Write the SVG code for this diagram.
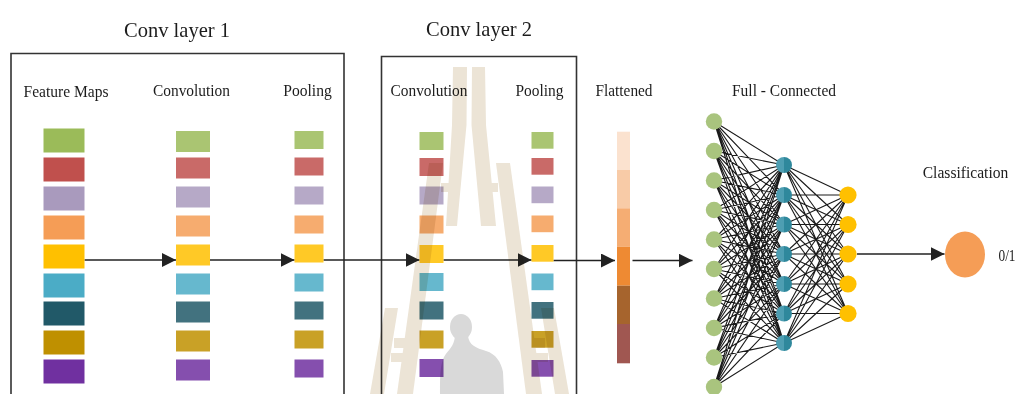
<svg xmlns="http://www.w3.org/2000/svg" width="1019" height="394" viewBox="0 0 1019 394">
  <style>
    text { font-family: "Liberation Serif", "Times New Roman", serif; fill: #1c1c1c; }
    .title { font-size: 21px; text-anchor: middle; }
    .lbl { font-size: 16px; text-anchor: middle; }
    .frame { fill: none; stroke: #333; stroke-width: 1.6; }
    .flow { fill: none; stroke: #222; stroke-width: 1.6; }
    .edge { fill: none; stroke: #1a1a1a; stroke-width: 1.1; }
    .soft rect { opacity: 0.85; }
    .k1 { fill: #9BBB59; } .k2 { fill: #C0504D; } .k3 { fill: #A99ABD; }
    .k4 { fill: #F59D56; } .k5 { fill: #FFC000; } .k6 { fill: #4BACC6; }
    .k7 { fill: #215968; } .k8 { fill: #BF9000; } .k9 { fill: #7030A0; }
    .in { fill: #A9C47E; }
    .hid { fill: url(#hidFill); }
    .out { fill: #FFC000; }
    .wm { fill: #ECE4D6; }
  </style>
  <defs>
    <marker id="arrow" markerUnits="userSpaceOnUse" markerWidth="14" markerHeight="14" refX="14" refY="7" orient="auto">
      <path d="M0,0 L14,7 L0,14 Z" fill="#222"/>
    </marker>
    <linearGradient id="hidFill" x1="0" y1="0" x2="1" y2="0">
      <stop offset="0" stop-color="#4E9EB2"/>
      <stop offset="0.5" stop-color="#4E9EB2"/>
      <stop offset="0.5" stop-color="#2F889C"/>
      <stop offset="1" stop-color="#2F889C"/>
    </linearGradient>
  </defs>

  <rect width="1019" height="394" fill="#fff"/>

  <!-- stage frames -->
  <g id="conv-layer-1">
    <text class="title" x="177" y="36.7" textLength="106" lengthAdjust="spacingAndGlyphs">Conv layer 1</text>
    <path class="frame" d="M11 394 V53.5 H344 V394"/>
  </g>
  <g id="conv-layer-2">
    <text class="title" x="479" y="36" textLength="106" lengthAdjust="spacingAndGlyphs">Conv layer 2</text>
    <path class="frame" d="M381.5 394 V56.5 H576.5 V394"/>
  </g>

  <!-- connectors -->
  <g id="connectors">
    <path class="flow" d="M84.5 260 H176" marker-end="url(#arrow)"/>
    <path class="flow" d="M210 260 H294.5" marker-end="url(#arrow)"/>
    <path class="flow" d="M323.5 260 H419.5" marker-end="url(#arrow)"/>
    <path class="flow" d="M443.5 260 H531.5" marker-end="url(#arrow)"/>
    <path class="flow" d="M553.5 260.5 H615" marker-end="url(#arrow)"/>
    <path class="flow" d="M632.5 260.5 H692.5" marker-end="url(#arrow)"/>
    <path class="flow" d="M857 254 H944.5" marker-end="url(#arrow)"/>
    <!-- input layer to hidden layer -->
    <path class="edge" d="M714 121.5 784 165M714 121.5 784 195M714 121.5 784 224.5M714 121.5 784 254M714 121.5 784 284M714 121.5 784 313.5M714 121.5 784 343
M714 151 784 165M714 151 784 195M714 151 784 224.5M714 151 784 254M714 151 784 284M714 151 784 313.5M714 151 784 343
M714 180.5 784 165M714 180.5 784 195M714 180.5 784 224.5M714 180.5 784 254M714 180.5 784 284M714 180.5 784 313.5M714 180.5 784 343
M714 210 784 165M714 210 784 195M714 210 784 224.5M714 210 784 254M714 210 784 284M714 210 784 313.5M714 210 784 343
M714 239.5 784 165M714 239.5 784 195M714 239.5 784 224.5M714 239.5 784 254M714 239.5 784 284M714 239.5 784 313.5M714 239.5 784 343
M714 269 784 165M714 269 784 195M714 269 784 224.5M714 269 784 254M714 269 784 284M714 269 784 313.5M714 269 784 343
M714 298.5 784 165M714 298.5 784 195M714 298.5 784 224.5M714 298.5 784 254M714 298.5 784 284M714 298.5 784 313.5M714 298.5 784 343
M714 328 784 165M714 328 784 195M714 328 784 224.5M714 328 784 254M714 328 784 284M714 328 784 313.5M714 328 784 343
M714 357.5 784 165M714 357.5 784 195M714 357.5 784 224.5M714 357.5 784 254M714 357.5 784 284M714 357.5 784 313.5M714 357.5 784 343
M714 387 784 165M714 387 784 195M714 387 784 224.5M714 387 784 254M714 387 784 284M714 387 784 313.5M714 387 784 343"/>
    <!-- hidden layer to output layer -->
    <path class="edge" d="M784 165 848 195M784 165 848 224.5M784 165 848 254M784 165 848 284M784 165 848 313.5
M784 195 848 195M784 195 848 224.5M784 195 848 254M784 195 848 284M784 195 848 313.5
M784 224.5 848 195M784 224.5 848 224.5M784 224.5 848 254M784 224.5 848 284M784 224.5 848 313.5
M784 254 848 195M784 254 848 224.5M784 254 848 254M784 254 848 284M784 254 848 313.5
M784 284 848 195M784 284 848 224.5M784 284 848 254M784 284 848 284M784 284 848 313.5
M784 313.5 848 195M784 313.5 848 224.5M784 313.5 848 254M784 313.5 848 284M784 313.5 848 313.5
M784 343 848 195M784 343 848 224.5M784 343 848 254M784 343 848 284M784 343 848 313.5"/>
  </g>

  <!-- feature maps -->
  <g id="feature-maps">
    <text class="lbl" x="66" y="97.3" style="font-size:17px" textLength="85" lengthAdjust="spacingAndGlyphs">Feature Maps</text>
    <rect class="k1" x="43.5" y="128.5" width="41" height="24"/>
    <rect class="k2" x="43.5" y="157.5" width="41" height="24"/>
    <rect class="k3" x="43.5" y="186.5" width="41" height="24"/>
    <rect class="k4" x="43.5" y="215.5" width="41" height="24"/>
    <rect class="k5" x="43.5" y="244.5" width="41" height="24"/>
    <rect class="k6" x="43.5" y="273.5" width="41" height="24"/>
    <rect class="k7" x="43.5" y="301.5" width="41" height="24"/>
    <rect class="k8" x="43.5" y="330.5" width="41" height="24"/>
    <rect class="k9" x="43.5" y="359.5" width="41" height="24"/>
  </g>

  <g id="convolution-1" class="soft">
    <text class="lbl" x="191.5" y="95.7" textLength="77" lengthAdjust="spacingAndGlyphs">Convolution</text>
    <rect class="k1" x="176" y="131" width="34" height="21"/>
    <rect class="k2" x="176" y="157.5" width="34" height="21"/>
    <rect class="k3" x="176" y="186.5" width="34" height="21"/>
    <rect class="k4" x="176" y="215.5" width="34" height="21"/>
    <rect class="k5" x="176" y="244.5" width="34" height="21"/>
    <rect class="k6" x="176" y="273.5" width="34" height="21"/>
    <rect class="k7" x="176" y="301.5" width="34" height="21"/>
    <rect class="k8" x="176" y="330.5" width="34" height="21"/>
    <rect class="k9" x="176" y="359.5" width="34" height="21"/>
  </g>

  <g id="pooling-1" class="soft">
    <text class="lbl" x="307.5" y="95.7" textLength="48.5" lengthAdjust="spacingAndGlyphs">Pooling</text>
    <rect class="k1" x="294.5" y="131" width="29" height="18"/>
    <rect class="k2" x="294.5" y="157.5" width="29" height="18"/>
    <rect class="k3" x="294.5" y="186.5" width="29" height="18"/>
    <rect class="k4" x="294.5" y="215.5" width="29" height="18"/>
    <rect class="k5" x="294.5" y="244.5" width="29" height="18"/>
    <rect class="k6" x="294.5" y="273.5" width="29" height="18"/>
    <rect class="k7" x="294.5" y="301.5" width="29" height="18"/>
    <rect class="k8" x="294.5" y="330.5" width="29" height="18"/>
    <rect class="k9" x="294.5" y="359.5" width="29" height="18"/>
  </g>

  <g id="convolution-2" class="soft">
    <text class="lbl" x="429" y="96" textLength="77" lengthAdjust="spacingAndGlyphs">Convolution</text>
    <rect class="k1" x="419.5" y="132" width="24" height="18"/>
    <rect class="k2" x="419.5" y="158" width="24" height="18"/>
    <rect class="k3" x="419.5" y="186.5" width="24" height="18"/>
    <rect class="k4" x="419.5" y="215.5" width="24" height="18"/>
    <rect class="k5" x="419.5" y="245" width="24" height="18"/>
    <rect class="k6" x="419.5" y="273" width="24" height="18"/>
    <rect class="k7" x="419.5" y="301.5" width="24" height="18"/>
    <rect class="k8" x="419.5" y="330.5" width="24" height="18"/>
    <rect class="k9" x="419.5" y="359" width="24" height="18"/>
  </g>

  <g id="pooling-2" class="soft">
    <text class="lbl" x="539.5" y="96" textLength="48" lengthAdjust="spacingAndGlyphs">Pooling</text>
    <rect class="k1" x="531.5" y="132" width="22" height="16.7"/>
    <rect class="k2" x="531.5" y="158" width="22" height="16.7"/>
    <rect class="k3" x="531.5" y="186.5" width="22" height="16.7"/>
    <rect class="k4" x="531.5" y="215.5" width="22" height="16.7"/>
    <rect class="k5" x="531.5" y="245" width="22" height="16.7"/>
    <rect class="k6" x="531.5" y="273.5" width="22" height="16.7"/>
    <rect class="k7" x="531.5" y="302" width="22" height="16.7"/>
    <rect class="k8" x="531.5" y="331" width="22" height="16.7"/>
    <rect class="k9" x="531.5" y="360" width="22" height="16.7"/>
  </g>

  <g id="flattened">
    <text class="lbl" x="624" y="96" textLength="57" lengthAdjust="spacingAndGlyphs">Flattened</text>
    <rect x="617" y="131.7" width="13" height="38.3" fill="#FBE2CF"/>
    <rect x="617" y="170" width="13" height="38.3" fill="#F8CBA7"/>
    <rect x="617" y="208.3" width="13" height="38.4" fill="#F5AD73"/>
    <rect x="617" y="246.7" width="13" height="39" fill="#EE8A33"/>
    <rect x="617" y="285.7" width="13" height="38.3" fill="#A6642D"/>
    <rect x="617" y="324" width="13" height="39.3" fill="#A05751"/>
  </g>

  <g id="fully-connected">
    <text class="lbl" x="784" y="96" textLength="104" lengthAdjust="spacingAndGlyphs">Full - Connected</text>
    <circle class="in" cx="714" cy="121.5" r="8.2"/>
    <circle class="in" cx="714" cy="151" r="8.2"/>
    <circle class="in" cx="714" cy="180.5" r="8.2"/>
    <circle class="in" cx="714" cy="210" r="8.2"/>
    <circle class="in" cx="714" cy="239.5" r="8.2"/>
    <circle class="in" cx="714" cy="269" r="8.2"/>
    <circle class="in" cx="714" cy="298.5" r="8.2"/>
    <circle class="in" cx="714" cy="328" r="8.2"/>
    <circle class="in" cx="714" cy="357.5" r="8.2"/>
    <circle class="in" cx="714" cy="387" r="8.2"/>
    <circle class="hid" cx="784" cy="165" r="8"/>
    <circle class="hid" cx="784" cy="195" r="8"/>
    <circle class="hid" cx="784" cy="224.5" r="8"/>
    <circle class="hid" cx="784" cy="254" r="8"/>
    <circle class="hid" cx="784" cy="284" r="8"/>
    <circle class="hid" cx="784" cy="313.5" r="8"/>
    <circle class="hid" cx="784" cy="343" r="8"/>
    <circle class="out" cx="848" cy="195" r="8.6"/>
    <circle class="out" cx="848" cy="224.5" r="8.6"/>
    <circle class="out" cx="848" cy="254" r="8.6"/>
    <circle class="out" cx="848" cy="284" r="8.6"/>
    <circle class="out" cx="848" cy="313.5" r="8.6"/>
  </g>

  <g id="classification">
    <text class="lbl" x="965.5" y="178.3" style="font-size:17px" textLength="85.5" lengthAdjust="spacingAndGlyphs">Classification</text>
    <ellipse cx="965" cy="254.5" rx="20" ry="23" fill="#F59D56"/>
    <text x="998.5" y="261" style="font-size:17px" textLength="17" lengthAdjust="spacingAndGlyphs">0/1</text>
  </g>

  <!-- faint emblem printed over the second stage -->
  <g id="emblem" style="mix-blend-mode:multiply">
    <polygon class="wm" points="453,67 467,67 466.5,125 457,226 446,226 452,125"/>
    <polygon class="wm" points="472,67 485,67 486,125 496,226 481,226 471.5,125"/>
    <polygon class="wm" points="429,163 443,163 413,394 397,394"/>
    <polygon class="wm" points="496,163 510,163 542,394 526,394"/>
    <rect class="wm" x="441" y="183" width="12" height="9"/>
    <rect class="wm" x="486" y="183" width="12" height="9"/>
    <polygon class="wm" points="385,308 398,308 384,394 370,394"/>
    <polygon class="wm" points="541,308 554,308 569,394 555,394"/>
    <rect class="wm" x="394" y="338" width="16" height="10"/>
    <rect class="wm" x="391" y="353" width="15" height="9"/>
    <rect class="wm" x="529" y="338" width="16" height="10"/>
    <rect class="wm" x="533" y="353" width="15" height="9"/>
    <ellipse cx="461" cy="327" rx="11" ry="13" fill="#D9D9D9"/>
    <path fill="#D9D9D9" d="M455 336 L468 336 C469 345 476 348 486 351 C496 354 501 362 503 372 L504 394 L440 394 C440 378 440 365 444 357 C448 350 454 347 455 336 Z"/>
  </g>
</svg>
